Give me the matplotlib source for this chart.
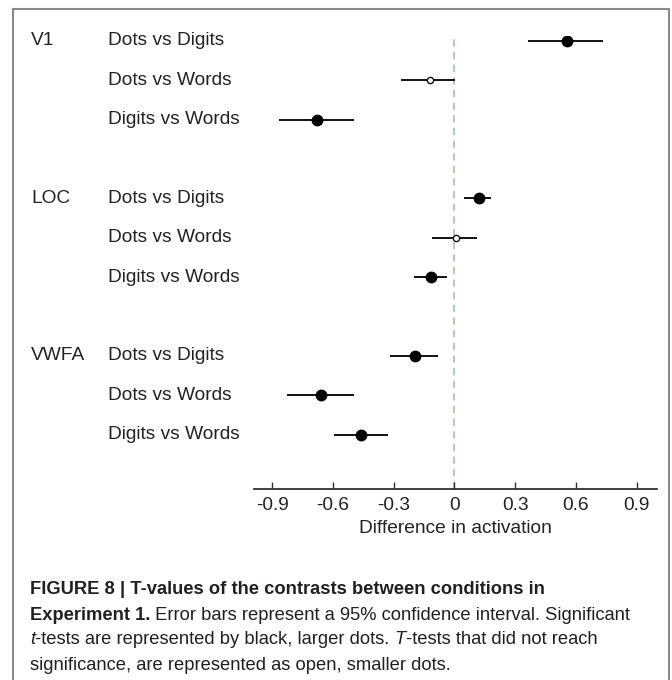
import matplotlib
matplotlib.use("Agg")
import matplotlib.pyplot as plt
from matplotlib.transforms import blended_transform_factory
from matplotlib.patches import Rectangle

plt.rcParams['font.family'] = ['Liberation Sans', 'DejaVu Sans']

# данные
groups = ['V1', 'LOC', 'VWFA']
comparisons = ['Dots vs Digits', 'Dots vs Words', 'Digits vs Words']
estimate = [[0.556, -0.123, -0.68],
            [0.121, 0.006, -0.117],
            [-0.195, -0.658, -0.461]]
lower = [[0.365, -0.265, -0.866],
         [0.049, -0.11, -0.2],
         [-0.318, -0.828, -0.597]]
upper = [[0.735, 0.004, -0.497],
         [0.18, 0.113, -0.036],
         [-0.081, -0.497, -0.329]]
significant = [[True, False, True],
               [True, False, True],
               [True, True, True]]
xticks = [-0.9, -0.6, -0.3, 0, 0.3, 0.6, 0.9]
xticklabels = ['-0.9', '-0.6', '-0.3', '0', '0.3', '0.6', '0.9']

W, H = 672, 680
fig = plt.figure(figsize=(W / 100, H / 100), dpi=100)
ax = fig.add_axes([254 / W, 1 - 489 / H, (657 - 254) / W, (489 - 36) / H])

txt = '#222222'
fs = 13.8
tr = blended_transform_factory(fig.transFigure, ax.transData)

for g, grp in enumerate(groups):
    for c, comp in enumerate(comparisons):
        y = g * 4 + c
        ax.plot([lower[g][c], upper[g][c]], [y, y], color='#111111', lw=1.4,
                solid_capstyle='butt', zorder=2)
        if significant[g][c]:
            ax.plot(estimate[g][c], y, 'o', color='black', ms=7.5, zorder=3)
        else:
            ax.plot(estimate[g][c], y, 'o', mfc='white', mec='#111111',
                    mew=1.0, ms=4.5, zorder=3)
        ax.text(108 / W, y, comp, transform=tr, ha='left', va='center',
                fontsize=fs, color=txt, clip_on=False)
    ax.text(31 / W, g * 4, grp, transform=tr, ha='left', va='center',
            fontsize=fs, color=txt, clip_on=False)

ax.axvline(0, color='#a9c9a9', lw=1.3, ls=(0, (4, 3)), zorder=1)

ax.set_xlim(-0.99, 1.0)
ax.set_ylim(11.38, -0.12)
ax.set_xticks(xticks)
ax.set_xticklabels(xticklabels)
ax.set_yticks([])
for s in ['top', 'right', 'left']:
    ax.spines[s].set_visible(False)
ax.spines['bottom'].set_color('#333333')
ax.spines['bottom'].set_linewidth(1.3)
ax.tick_params(axis='x', direction='in', length=5, width=1.0, colors='#333333',
               labelsize=fs, labelcolor=txt, pad=6)
ax.set_xlabel('Difference in activation', fontsize=fs, color=txt, labelpad=4)

# рамка
fig.patches.append(Rectangle((13 / W, -0.05), (669 - 13) / W, 1.05 - 9 / H,
                             transform=fig.transFigure, fill=False,
                             edgecolor='#8a8a8a', lw=1.5))

# подпись
renderer = fig.canvas.get_renderer()
cap = [
    [('FIGURE 8 | T-values of the contrasts between conditions in', 'bold', 'normal')],
    [('Experiment 1.', 'bold', 'normal'),
     (' Error bars represent a 95% confidence interval. Significant', 'normal', 'normal')],
    [('t', 'normal', 'italic'),
     ('-tests are represented by black, larger dots. ', 'normal', 'normal'),
     ('T', 'normal', 'italic'),
     ('-tests that did not reach', 'normal', 'normal')],
    [('significance, are represented as open, smaller dots.', 'normal', 'normal')],
]
ys = [590, 615, 640, 666]
for line, yy in zip(cap, ys):
    x = 30
    for s, wt, st in line:
        t = fig.text(x / W, 1 - yy / H, s, fontsize=13.2, fontweight=wt,
                     fontstyle=st, color='#231f20', ha='left', va='center')
        x += t.get_window_extent(renderer).width

fig.savefig('out.png', dpi=100)
